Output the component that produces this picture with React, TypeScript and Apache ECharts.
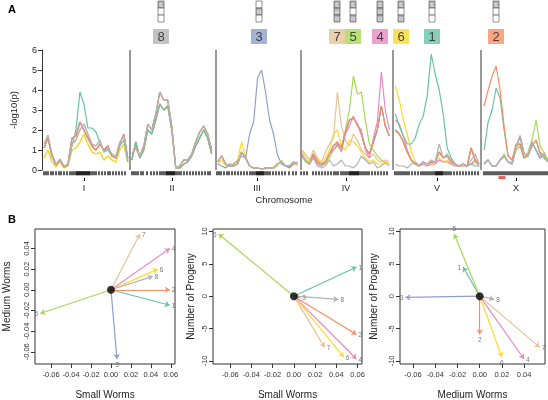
import React, { useEffect, useRef } from "react";
import * as echarts from "echarts";

// ---------- traits ----------
const traitNames = ["1", "2", "3", "4", "5", "6", "7", "8"];
const traitColors = ["#66c2a5", "#fc8d62", "#8da0cb", "#e78ac3", "#a6d854", "#ffd92f", "#e5c494", "#b3b3b3"];
const lodDrawOrder = [4, 5, 6, 3, 0, 2, 1, 7];

// ---------- chromosomes (genome axis units) ----------
const chromNames = ["I", "II", "III", "IV", "V", "X"];
const chromFirstPos = [0, 88, 174, 258, 352, 441];
const chromStep = 4;
const chromBoundaries = [86, 172, 257, 349, 438];
const chromCenters = [41, 129, 214, 303, 394, 473];
const genomeMax = 505;

// ---------- LOD profiles (-log10 p) ----------
const I_base = [1.3, 1.75, 0.8, 0.3, 0.55, 0.2, 0.3, 1.3, 1.5, 2.0, 2.3, 1.8, 1.3, 1.2, 1.5, 0.9, 1.1, 0.8, 0.7, 1.4, 1.7, 0.5];
const I_teal = [1.1, 1.6, 0.7, 0.25, 0.5, 0.15, 0.25, 1.2, 2.0, 3.9, 3.3, 2.1, 2.1, 1.9, 1.4, 0.9, 1.0, 0.7, 0.6, 1.2, 1.5, 0.4];
const I_mid = [1.1, 1.6, 0.7, 0.25, 0.5, 0.15, 0.3, 1.6, 1.7, 2.4, 2.0, 1.6, 1.2, 1.0, 1.3, 1.0, 1.2, 0.7, 0.6, 1.3, 1.8, 0.6];
const I_low = [0.6, 1.0, 0.4, 0.15, 0.45, 0.1, 0.2, 1.0, 1.1, 1.4, 1.8, 1.3, 0.9, 0.8, 0.9, 0.5, 0.7, 0.5, 0.4, 1.0, 1.3, 0.4];

const II_base = [0.8, 1.1, 0.7, 1.2, 2.3, 2.0, 2.8, 3.9, 3.5, 3.5, 2.2, 0.1, 0.2, 0.5, 0.5, 0.8, 1.4, 1.9, 2.2, 1.8, 1.0];
const II_low = [0.5, 1.4, 0.6, 1.0, 2.0, 1.8, 2.5, 3.3, 3.0, 3.2, 2.0, 0.1, 0.1, 0.3, 0.4, 0.7, 1.2, 1.6, 2.0, 1.6, 0.8];

const III_blue = [0.3, 0.2, 0.1, 0.3, 0.3, 0.45, 0.7, 0.6, 1.8, 2.4, 4.6, 5.0, 3.9, 2.5, 1.8, 0.75, 0.3, 0.2, 0.1, 0.3, 0.4];
const III_base = [0.4, 0.7, 0.3, 0.2, 0.2, 0.3, 0.9, 0.6, 0.2, 0.1, 0.1, 0.05, 0.1, 0.1, 0.1, 0.3, 0.4, 0.2, 0.2, 0.4, 0.3];
const III_yellow = [0.3, 0.5, 0.2, 0.2, 0.3, 0.5, 1.4, 0.7, 0.2, 0.1, 0.1, 0.05, 0.05, 0.1, 0.1, 0.2, 0.5, 0.2, 0.1, 0.3, 0.2];

const IV_gray = [0.8, 0.5, 0.3, 0.6, 0.2, 0.1, 0.2, 0.5, 0.2, 0.3, 0.5, 0.2, 0.2, 0.1, 0.3, 0.7, 0.5, 0.3, 0.4, 0.1, 0.2, 0.35, 0.2];
const IV_tan = [1.0, 0.8, 0.5, 1.0, 0.6, 0.4, 0.9, 1.3, 1.6, 3.9, 2.2, 1.5, 1.2, 1.8, 1.5, 1.0, 0.8, 0.6, 0.8, 0.5, 0.4, 0.5, 0.4];
const IV_green = [0.7, 0.4, 0.3, 0.6, 0.3, 0.2, 0.3, 0.6, 1.0, 1.2, 1.0, 2.0, 3.0, 4.7, 3.8, 3.9, 2.5, 1.3, 1.0, 0.7, 0.5, 0.4, 0.3];
const IV_pink = [0.7, 0.5, 0.3, 0.7, 0.3, 0.2, 0.4, 0.8, 1.0, 1.3, 0.9, 1.8, 2.2, 2.7, 2.2, 2.0, 1.0, 0.6, 1.6, 2.4, 4.9, 3.0, 2.0];
const IV_mix = [0.8, 0.5, 0.3, 0.8, 0.4, 0.3, 0.4, 0.8, 1.2, 1.4, 1.1, 1.9, 2.5, 2.6, 2.3, 1.8, 1.1, 0.8, 1.4, 2.0, 3.2, 2.2, 1.7];
const IV_yellow = [0.9, 0.7, 0.4, 0.8, 0.5, 0.3, 0.6, 1.0, 1.8, 2.0, 1.2, 1.0, 1.5, 1.4, 1.2, 0.9, 0.6, 0.4, 0.5, 0.3, 0.3, 0.4, 0.3];

const V_teal = [2.8, 2.2, 1.7, 1.3, 1.3, 1.6, 2.3, 2.7, 3.7, 5.8, 4.8, 4.0, 2.8, 1.1, 0.6, 0.3, 0.2, 0.3, 0.2, 0.3, 0.2, 0.2];
const V_yellow = [4.2, 3.5, 2.5, 1.8, 0.9, 0.4, 0.2, 0.3, 0.2, 0.3, 0.3, 0.6, 0.4, 0.5, 0.3, 0.2, 0.2, 0.2, 0.2, 0.3, 0.4, 0.2];
const V_pink = [2.5, 2.3, 1.7, 1.0, 0.5, 0.3, 0.2, 0.3, 0.2, 0.3, 0.3, 0.5, 0.4, 0.4, 0.3, 0.2, 0.2, 0.2, 0.2, 0.3, 0.5, 0.2];
const V_mid = [2.0, 1.8, 1.4, 0.9, 0.5, 0.3, 0.2, 0.4, 0.3, 0.4, 0.4, 0.9, 0.6, 0.7, 0.4, 0.3, 0.2, 0.3, 0.2, 1.1, 0.5, 0.3];
const V_gray = [0.3, 0.2, 0.2, 0.1, 0.3, 0.4, 0.2, 0.4, 0.3, 0.5, 0.4, 1.3, 0.6, 0.8, 0.5, 0.3, 0.2, 0.3, 0.2, 0.5, 0.8, 0.3];

const X_orange = [3.2, 4.0, 4.7, 5.2, 4.0, 2.2, 0.7, 0.5, 1.3, 1.3, 0.6, 0.8, 1.2, 1.5, 0.9, 0.7, 0.4];
const X_teal = [1.0, 2.4, 3.0, 4.1, 3.6, 2.0, 0.7, 0.5, 1.2, 1.3, 0.6, 0.7, 1.2, 1.5, 0.8, 0.6, 0.4];
const X_green = [0.3, 0.5, 0.2, 0.2, 0.5, 0.8, 0.4, 0.4, 1.0, 1.2, 0.6, 0.9, 1.5, 2.5, 1.2, 0.9, 0.5];
const X_gray = [0.3, 0.5, 0.2, 0.2, 0.5, 0.7, 0.4, 0.3, 1.1, 1.7, 0.8, 0.7, 1.4, 1.0, 0.6, 0.8, 0.4];

// trait 1..8 -> profile, per chromosome
const chrI = [I_teal, I_mid, I_mid, I_mid, I_low, I_low, I_base, I_base];
const chrII = [II_low, II_base, II_base, II_low, II_low, II_low, II_base, II_base];
const chrIII = [III_base, III_base, III_blue, III_base, III_base, III_yellow, III_base, III_base];
const chrIV = [IV_mix, IV_mix, IV_mix, IV_pink, IV_green, IV_yellow, IV_tan, IV_gray];
const chrV = [V_teal, V_mid, V_mid, V_pink, V_mid, V_yellow, V_mid, V_gray];
const chrX = [X_teal, X_orange, X_gray, X_gray, X_green, X_gray, X_gray, X_gray];
const chromProfiles = [chrI, chrII, chrIII, chrIV, chrV, chrX];

// ---------- genetic markers (offset within chromosome) ----------
const markersI = [1, 3, 5, 8, 10, 13, 16, 18, 21, 24, 27, 29, 31, 33, 34, 35, 36, 37, 38, 39, 40, 41, 42, 43, 44, 45, 46, 47, 49, 51, 53, 56, 59, 62, 65, 67, 70, 73, 76, 79, 82];
const markersII = [1, 3, 5, 7, 10, 12, 16, 20, 23, 26, 29, 31, 33, 35, 36, 37, 38, 39, 40, 41, 42, 43, 44, 46, 48, 50, 53, 56, 59, 62, 65, 68, 71, 74, 77, 79];
const markersIII = [0, 2, 4, 7, 10, 12, 15, 18, 21, 24, 27, 30, 33, 35, 37, 39, 40, 41, 42, 43, 44, 45, 46, 47, 49, 51, 53, 56, 59, 62, 65, 68, 72, 76, 79];
const markersIV = [0, 3, 6, 12, 15, 18, 21, 24, 27, 30, 33, 35, 37, 40, 42, 44, 46, 48, 49, 50, 51, 52, 53, 54, 55, 56, 57, 58, 60, 62, 64, 66, 68, 71, 74, 77, 80, 83, 86];
const markersV = [0, 2, 4, 6, 8, 10, 12, 14, 17, 20, 23, 26, 28, 30, 32, 34, 36, 38, 40, 41, 42, 43, 44, 45, 46, 47, 48, 50, 52, 54, 56, 59, 62, 65, 68, 71, 74, 77, 80, 83];
const markersX = [0, 2, 4, 6, 8, 10, 12, 14, 16, 18, 20, 22, 24, 26, 28, 30, 32, 34, 36, 38, 40, 42, 44, 46, 48, 50, 52, 54, 56, 58, 60, 62, 64];
const markerSets = [markersI, markersII, markersIII, markersIV, markersV, markersX];
const highlightMarker = [459];

// ---------- QTL annotation ----------
const annotPos = [389, 453, 216, 337, 310, 358, 294, 118];
const annotCells = [[1, 0, 0], [1, 0, 0], [0, 1, 0], [1, 1, 1], [1, 0, 1], [1, 0, 1], [1, 1, 1], [1, 0, 0]];
const cellLetters = ["S", "M", "N"];

// ---------- effect vectors ----------
const smallWorms = [0.059, 0.059, 0.006, 0.059, -0.071, 0.047, 0.029, 0.042];
const mediumWorms = [-0.015, 0.0, -0.067, 0.04, -0.023, 0.02, 0.054, 0.013];
const progeny = [4.5, -5.9, -0.2, -9.7, 9.6, -9.4, -7.9, -0.5];
const wormTicks = [-0.06, -0.04, -0.02, 0, 0.02, 0.04, 0.06];
const progenyTicks = [-10, -5, 0, 5, 10];

const FONT = "Liberation Sans, Arial, Helvetica, sans-serif";

function padRange(vals: number[]) {
  const lo = Math.min(0, ...vals);
  const hi = Math.max(0, ...vals);
  const s = hi - lo;
  return [lo - 0.04 * s, hi + 0.04 * s];
}

export default function App() {
  const ref = useRef<HTMLDivElement>(null);
  useEffect(() => {
    if (!ref.current) return;
    const chart = echarts.init(ref.current, null, { renderer: "svg" });

    const grid: any[] = [
      { left: 43, right: 0, top: 50, height: 120 },
      { left: 43, right: 0, top: 170, height: 8 },
      { left: 43, right: 0, top: 0, height: 45 },
    ];
    const xAxis: any[] = [
      { gridIndex: 0, type: "value", min: 0, max: genomeMax, show: false },
      {
        gridIndex: 1, type: "value", min: 0, max: genomeMax,
        axisLine: { show: false, onZero: false }, splitLine: { show: false },
        axisTick: { show: true, customValues: chromCenters, length: 3, lineStyle: { color: "#000", width: 1 } },
        axisLabel: {
          customValues: chromCenters, margin: 5, fontSize: 9, color: "#222",
          formatter: (v: number) => chromNames[chromCenters.indexOf(v)] ?? "",
        },
      },
      { gridIndex: 2, type: "value", min: 0, max: genomeMax, show: false },
    ];
    const yAxis: any[] = [
      {
        gridIndex: 0, type: "value", min: 0, max: 6, interval: 1, offset: 2,
        axisLine: { show: true, onZero: false, lineStyle: { color: "#333" } },
        axisTick: { show: true, length: 4, lineStyle: { color: "#333" } },
        axisLabel: { fontSize: 9, color: "#222", margin: 5 },
        splitLine: { show: false },
        name: "-log10(p)", nameLocation: "middle", nameGap: 24, nameRotate: 90,
        nameTextStyle: { fontSize: 9.5, color: "#222" },
      },
      { gridIndex: 1, type: "value", min: 0, max: 1, show: false },
      { gridIndex: 2, type: "value", min: 0, max: 45, inverse: true, show: false },
    ];
    const series: any[] = [];

    lodDrawOrder.forEach((t, k) => {
      const data: any[] = [];
      chromProfiles.forEach((prof, c) => {
        prof[t].forEach((v, i) => data.push([chromFirstPos[c] + i * chromStep, v]));
        if (c < chromBoundaries.length) data.push([chromBoundaries[c], "-"]);
      });
      series.push({
        type: "line", xAxisIndex: 0, yAxisIndex: 0, data, showSymbol: false,
        connectNulls: false, silent: true,
        lineStyle: { color: traitColors[t], width: 1.2 },
        itemStyle: { color: traitColors[t] },
        markLine: k === 0 ? {
          silent: true, symbol: "none", label: { show: false },
          lineStyle: { color: "#777", width: 1.5, type: "solid" },
          data: chromBoundaries.map((b) => ({ xAxis: b })),
        } : undefined,
      });
    });

    // marker rug
    const rug: any[] = [];
    markerSets.forEach((ms, c) => ms.forEach((m) => rug.push([chromFirstPos[c] + m, 0.6])));
    series.push({
      type: "scatter", xAxisIndex: 1, yAxisIndex: 1, data: rug, silent: true,
      symbol: "rect", symbolSize: [1.6, 4], itemStyle: { color: "#000" },
    });
    series.push({
      type: "scatter", xAxisIndex: 1, yAxisIndex: 1, silent: true,
      data: highlightMarker.map((h) => [h, 0.05]),
      symbol: "rect", symbolSize: [7, 3], itemStyle: { color: "#e5322b" },
    });

    // QTL label boxes
    series.push({
      type: "scatter", xAxisIndex: 2, yAxisIndex: 2, silent: true,
      symbol: "rect", symbolSize: [16, 15],
      data: traitNames.map((n, t) => ({
        value: [annotPos[t], 36.5],
        itemStyle: { color: traitColors[t] },
        label: { show: true, position: "inside", formatter: n, fontSize: 13, color: "#222", fontFamily: FONT },
      })),
    });
    const cells: any[] = [];
    traitNames.forEach((n, t) => {
      annotCells[t].forEach((on, k) => {
        cells.push({
          value: [annotPos[t], 4.5 + 7 * k],
          itemStyle: { color: on ? "#a3a3a3" : "#fff", borderColor: "#555", borderWidth: 0.8 },
          label: { show: !!on, position: "inside", formatter: cellLetters[k], fontSize: 5, color: "#fff", fontFamily: FONT },
        });
      });
    });
    series.push({
      type: "scatter", xAxisIndex: 2, yAxisIndex: 2, silent: true,
      symbol: "rect", symbolSize: [6, 7], data: cells,
    });

    // biplots
    const panels = [
      { xs: smallWorms, ys: mediumWorms, xName: "Small Worms", yName: "Medium Worms", xt: wormTicks, yt: wormTicks, yGap: 24, box: { left: 29, top: 229, width: 146, height: 137 } },
      { xs: smallWorms, ys: progeny, xName: "Small Worms", yName: "Number of Progeny", xt: wormTicks, yt: progenyTicks, yGap: 18, box: { left: 213, top: 229, width: 149, height: 137 } },
      { xs: mediumWorms, ys: progeny, xName: "Medium Worms", yName: "Number of Progeny", xt: wormTicks, yt: progenyTicks, yGap: 22, box: { left: 400, top: 229, width: 145, height: 137 } },
    ];
    panels.forEach((p, i) => {
      const gi = 3 + i;
      const xr = padRange(p.xs);
      const yr = padRange(p.ys);
      grid.push({ ...p.box, show: true, borderColor: "#333", borderWidth: 1, backgroundColor: "transparent" });
      const isWorm = (ticks: number[]) => ticks === wormTicks;
      const fmt = (ticks: number[]) => (v: number) => (isWorm(ticks) ? (Math.abs(v) < 1e-9 ? "0.00" : v.toFixed(2)) : String(Math.round(v)));
      xAxis.push({
        gridIndex: gi, type: "value", min: xr[0], max: xr[1], position: "bottom",
        axisLine: { show: false, onZero: false }, splitLine: { show: false },
        axisTick: { show: true, customValues: p.xt, length: 4, lineStyle: { color: "#333" } },
        axisLabel: { customValues: p.xt, formatter: fmt(p.xt), fontSize: 7.5, color: "#333", margin: 6 },
        name: p.xName, nameLocation: "middle", nameGap: 25,
        nameTextStyle: { fontSize: 10, color: "#222" },
      });
      yAxis.push({
        gridIndex: gi, type: "value", min: yr[0], max: yr[1], position: "left",
        axisLine: { show: false, onZero: false }, splitLine: { show: false },
        axisTick: { show: true, customValues: p.yt, length: 4, lineStyle: { color: "#333" } },
        axisLabel: { customValues: p.yt, formatter: fmt(p.yt), fontSize: 7.5, color: "#333", margin: 5, rotate: 90 },
        name: p.yName, nameLocation: "middle", nameGap: p.yGap, nameRotate: 90,
        nameTextStyle: { fontSize: 10, color: "#222" },
      });
      series.push({
        type: "lines", coordinateSystem: "cartesian2d", xAxisIndex: gi, yAxisIndex: gi, silent: true,
        symbol: ["none", "arrow"], symbolSize: 5,
        data: traitNames.map((n, t) => ({
          coords: [[0, 0], [p.xs[t], p.ys[t]]],
          lineStyle: { color: traitColors[t], width: 1.2, opacity: 1 },
        })),
        lineStyle: { opacity: 1, width: 1.2 },
      });
      series.push({
        type: "scatter", xAxisIndex: gi, yAxisIndex: gi, silent: true, symbolSize: 0,
        data: traitNames.map((n, t) => {
          const dx = (p.xs[t] / (xr[1] - xr[0])) * p.box.width;
          const dy = (p.ys[t] / (yr[1] - yr[0])) * p.box.height;
          let pos = dx >= 0 ? "right" : "left";
          if (Math.abs(dy) > 2 * Math.abs(dx)) pos = dy >= 0 ? "top" : "bottom";
          return {
            value: [p.xs[t], p.ys[t]],
            label: { show: true, position: pos, distance: 2, formatter: n, fontSize: 6.5, color: "#555", fontFamily: FONT },
          };
        }),
      });
      series.push({
        type: "scatter", xAxisIndex: gi, yAxisIndex: gi, silent: true, z: 10,
        data: [[0, 0]], symbolSize: 8, itemStyle: { color: "#000" },
      });
    });

    chart.setOption({
      animation: false,
      textStyle: { fontFamily: FONT },
      grid, xAxis, yAxis, series,
      graphic: [
        { type: "text", left: 8, top: 3, style: { text: "A", fontSize: 11, fontWeight: "bold", fill: "#000", fontFamily: FONT } },
        { type: "text", left: 8, top: 213, style: { text: "B", fontSize: 11, fontWeight: "bold", fill: "#000", fontFamily: FONT } },
        { type: "text", x: 284, y: 199, style: { text: "Chromosome", fontSize: 9.5, fill: "#222", align: "center", verticalAlign: "middle", fontFamily: FONT } },
      ],
    });
    return () => chart.dispose();
  }, []);
  return <div ref={ref} style={{ position: "fixed", left: 0, top: 0, width: 548, height: 400 }} />;
}
